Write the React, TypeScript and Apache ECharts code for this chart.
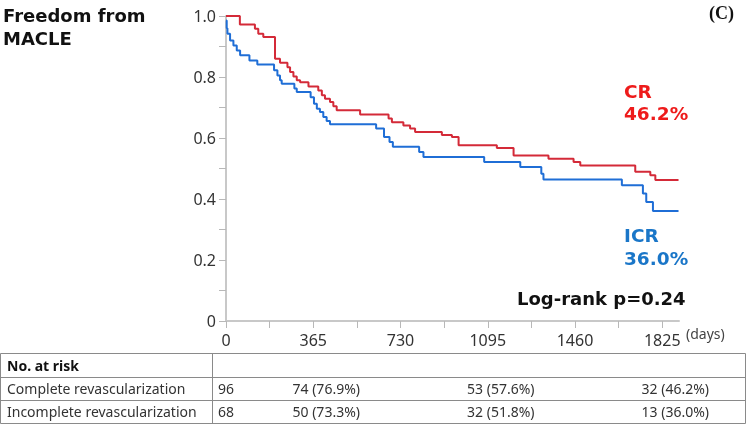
import React, { useEffect, useRef } from 'react';
import * as echarts from 'echarts';

// Kaplan-Meier step points [day, survival]
const crCurve: [number, number][] = [
  [0, 1.0], [58, 0.972], [121, 0.958], [135, 0.942], [156, 0.931], [205, 0.86],
  [226, 0.847], [257, 0.832], [268, 0.816], [282, 0.802], [296, 0.789], [310, 0.783],
  [345, 0.769], [386, 0.756], [401, 0.74], [414, 0.729], [435, 0.718], [449, 0.704],
  [463, 0.691], [561, 0.677], [680, 0.664], [694, 0.652], [742, 0.641], [770, 0.631],
  [791, 0.62], [903, 0.61], [945, 0.603], [973, 0.576], [1133, 0.567], [1203, 0.543],
  [1349, 0.532], [1454, 0.521], [1482, 0.51], [1712, 0.489], [1775, 0.478], [1796, 0.462],
  [1893, 0.462],
];
const icrCurve: [number, number][] = [
  [0, 0.985], [3, 0.96], [6, 0.942], [17, 0.92], [31, 0.903], [45, 0.887], [59, 0.871],
  [98, 0.854], [131, 0.841], [201, 0.822], [215, 0.805], [226, 0.789], [233, 0.778],
  [286, 0.762], [296, 0.751], [354, 0.734], [368, 0.712], [380, 0.696], [393, 0.685],
  [407, 0.669], [421, 0.656], [435, 0.645], [628, 0.631], [661, 0.603], [684, 0.587],
  [698, 0.571], [808, 0.554], [826, 0.538], [1080, 0.521], [1231, 0.505], [1319, 0.483],
  [1328, 0.464], [1656, 0.445], [1744, 0.418], [1758, 0.39], [1786, 0.361], [1893, 0.361],
];

const xTickValues = [0, 182.5, 365, 547.5, 730, 912.5, 1095, 1277.5, 1460, 1642.5, 1825];
const xLabelValues = [0, 365, 730, 1095, 1460, 1825];
const yTickValues = [0, 0.1, 0.2, 0.3, 0.4, 0.5, 0.6, 0.7, 0.8, 0.9, 1.0];
const yLabelValues = [0, 0.2, 0.4, 0.6, 0.8, 1.0];

const riskDays = [0, 365, 1095, 1825];
const riskHeader = 'No. at risk';
const riskRowNames = ['Complete revascularization', 'Incomplete revascularization'];
const crAtRisk = ['96', '74 (76.9%)', '53 (57.6%)', '32 (46.2%)'];
const icrAtRisk = ['68', '50 (73.3%)', '32 (51.8%)', '13 (36.0%)'];

const titleText = 'Freedom from\nMACLE';
const panelTag = '(C)';
const crLabel = 'CR\n46.2%';
const icrLabel = 'ICR\n36.0%';
const pValueText = 'Log-rank p=0.24';
const xUnit = '(days)';

const RED_LINE = '#d42a38';
const BLUE_LINE = '#1f6ed6';

function txt(
  x: number, y: number, text: string, font: string, fill: string,
  align = 'left', vAlign = 'middle', lineHeight?: number,
) {
  const style: any = { text, font, fill, align, verticalAlign: vAlign, textAlign: align, textVerticalAlign: vAlign };
  if (lineHeight) style.lineHeight = lineHeight;
  return { type: 'text', x, y, silent: true, style };
}

export default function App() {
  const ref = useRef<HTMLDivElement>(null);
  useEffect(() => {
    document.body.style.margin = '0';
    const chart = echarts.init(ref.current!, null, { renderer: 'svg' });
    const axisColor = '#c8c8c8';
    chart.setOption({
      animation: false,
      grid: { left: 226, right: 70, top: 16, bottom: 106 },
      xAxis: {
        type: 'value',
        min: 0,
        max: 1895,
        splitLine: { show: false },
        axisLine: { show: true, lineStyle: { color: axisColor, width: 2 } },
        axisTick: { show: true, length: 7, customValues: xTickValues, lineStyle: { color: '#b8b8b8', width: 1 } },
        axisLabel: {
          customValues: xLabelValues,
          margin: 11,
          color: '#333',
          fontFamily: 'Noto Sans',
          fontSize: 16,
          formatter: (v: number) => String(v),
        },
      },
      yAxis: {
        type: 'value',
        min: 0,
        max: 1,
        splitLine: { show: false },
        axisLine: { show: true, lineStyle: { color: axisColor, width: 2 } },
        axisTick: { show: true, length: 7, customValues: yTickValues, lineStyle: { color: '#b8b8b8', width: 1 } },
        axisLabel: {
          customValues: yLabelValues,
          margin: 10,
          color: '#333',
          fontFamily: 'Noto Sans',
          fontSize: 16,
          formatter: (v: number) => (v === 0 ? '0' : v.toFixed(1)),
        },
      },
      series: [
        {
          name: 'CR',
          type: 'line',
          step: 'end',
          symbol: 'none',
          data: crCurve,
          lineStyle: { color: RED_LINE, width: 2 },
          z: 3,
        },
        {
          name: 'ICR',
          type: 'line',
          step: 'end',
          symbol: 'none',
          data: icrCurve,
          lineStyle: { color: BLUE_LINE, width: 2 },
          z: 2,
        },
      ],
    });

    const px = (d: number) => chart.convertToPixel({ xAxisIndex: 0 }, d) as number;
    const tableFont = '14px "Noto Sans"';
    const tableColor = '#333';
    const rowY = [365, 388.5, 411.5];
    const graphic: any[] = [
      txt(3, 27, titleText, 'bold 18px "DejaVu Sans"', '#111', 'left', 'middle', 23.5),
      txt(709, 13, panelTag, 'bold 18px "Liberation Serif"', '#111'),
      txt(624, 102.5, crLabel, 'bold 18.5px "DejaVu Sans"', '#ee1b1b', 'left', 'middle', 22.5),
      txt(624, 247, icrLabel, 'bold 18.5px "DejaVu Sans"', '#1a76c8', 'left', 'middle', 23.5),
      txt(517, 298, pValueText, 'bold 18px "DejaVu Sans"', '#111'),
      txt(686, 333, xUnit, '14px "Noto Sans"', '#444'),
      // table frame
      { type: 'rect', shape: { x: 0.5, y: 353.5, width: 745, height: 70 }, style: { fill: 'none', stroke: '#8a8a8a', lineWidth: 1 }, silent: true },
      { type: 'line', shape: { x1: 0.5, y1: 377.5, x2: 745.5, y2: 377.5 }, style: { stroke: '#8a8a8a', lineWidth: 1 }, silent: true },
      { type: 'line', shape: { x1: 0.5, y1: 400.5, x2: 745.5, y2: 400.5 }, style: { stroke: '#8a8a8a', lineWidth: 1 }, silent: true },
      { type: 'line', shape: { x1: 212.5, y1: 353.5, x2: 212.5, y2: 423.5 }, style: { stroke: '#8a8a8a', lineWidth: 1 }, silent: true },
      txt(7, rowY[0], riskHeader, 'bold 14px "Noto Sans"', '#111'),
      txt(7, rowY[1], riskRowNames[0], tableFont, tableColor),
      txt(7, rowY[2], riskRowNames[1], tableFont, tableColor),
    ];
    [crAtRisk, icrAtRisk].forEach((row, r) => {
      row.forEach((val, i) => {
        if (i === 0) {
          graphic.push(txt(218, rowY[r + 1], val, tableFont, tableColor));
        } else {
          graphic.push(txt(px(riskDays[i]) + 13, rowY[r + 1], val, tableFont, tableColor, 'center'));
        }
      });
    });
    chart.setOption({ graphic });
    return () => chart.dispose();
  }, []);
  return <div ref={ref} style={{ position: 'fixed', left: 0, top: 0, width: 749, height: 427 }} />;
}
